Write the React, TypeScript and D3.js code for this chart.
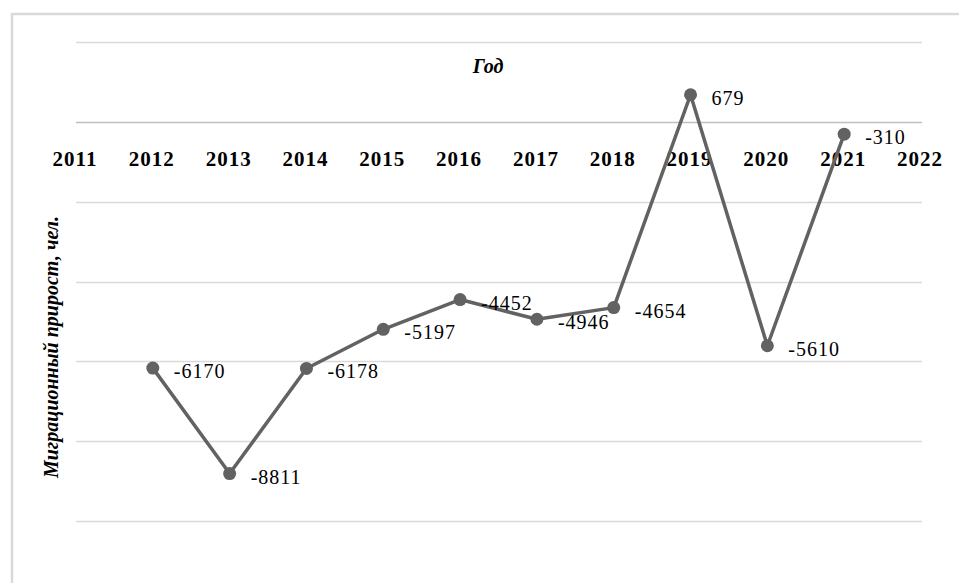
import React, { useEffect, useRef } from 'react';
import * as d3 from 'd3';

const years = [2012, 2013, 2014, 2015, 2016, 2017, 2018, 2019, 2020, 2021];
const migration = [-6170, -8811, -6178, -5197, -4452, -4946, -4654, 679, -5610, -310];
const axisYears = [2011, 2012, 2013, 2014, 2015, 2016, 2017, 2018, 2019, 2020, 2021, 2022];
const gridValues = [-10000, -8000, -6000, -4000, -2000, 0, 2000];

const xTitle = 'Год';
const yTitle = 'Миграционный прирост, чел.';

const App: React.FC = () => {
  const chartRef = useRef<SVGSVGElement | null>(null);

  useEffect(() => {
    if (!chartRef.current) return;
    const width = 959;
    const height = 583;
    const svg = d3.select(chartRef.current);
    svg.selectAll('*').remove();
    svg.attr('width', width).attr('height', height);

    const serif = "'Liberation Serif', 'Times New Roman', serif";

    // outer frame
    svg
      .append('rect')
      .attr('x', 12)
      .attr('y', 14)
      .attr('width', 980)
      .attr('height', 600)
      .attr('fill', '#fff')
      .attr('stroke', '#d9d9d9')
      .attr('stroke-width', 2.5);

    const x = d3.scaleLinear().domain([2011, 2022]).range([76, 921]);
    const y = d3.scaleLinear().domain([-10000, 2000]).range([521, 42]);

    svg
      .append('g')
      .selectAll('line')
      .data(gridValues)
      .join('line')
      .attr('x1', 76)
      .attr('x2', 922)
      .attr('y1', (d) => Math.round(y(d)) + 0.5)
      .attr('y2', (d) => Math.round(y(d)) + 0.5)
      .attr('stroke', (d) => (d === 0 ? '#bfbfbf' : '#d9d9d9'))
      .attr('stroke-width', 1.3);

    // x axis labels under the zero line
    svg
      .append('g')
      .selectAll('text')
      .data(axisYears)
      .join('text')
      .attr('x', (d) => x(d) - 1)
      .attr('y', y(0) + 44)
      .attr('text-anchor', 'middle')
      .style('font-family', serif)
      .style('font-weight', 'bold')
      .style('font-size', '21px')
      .style('letter-spacing', '1px')
      .style('fill', '#000')
      .text((d) => String(d));

    svg
      .append('text')
      .attr('x', 488)
      .attr('y', 73)
      .attr('text-anchor', 'middle')
      .style('font-family', serif)
      .style('font-weight', 'bold')
      .style('font-style', 'italic')
      .style('font-size', '20px')
      .text(xTitle);

    svg
      .append('text')
      .attr('transform', 'translate(58,347) rotate(-90)')
      .attr('text-anchor', 'middle')
      .style('font-family', serif)
      .style('font-weight', 'bold')
      .style('font-style', 'italic')
      .style('font-size', '20px')
      .text(yTitle);

    const pts = years.map((yr, i) => ({ year: yr, value: migration[i] }));

    const line = d3
      .line<{ year: number; value: number }>()
      .x((d) => x(d.year))
      .y((d) => y(d.value));

    svg
      .append('path')
      .datum(pts)
      .attr('d', line as any)
      .attr('fill', 'none')
      .attr('stroke', '#626262')
      .attr('stroke-width', 3.5)
      .attr('stroke-linejoin', 'round');

    svg
      .append('g')
      .selectAll('circle')
      .data(pts)
      .join('circle')
      .attr('cx', (d) => x(d.year))
      .attr('cy', (d) => y(d.value))
      .attr('r', 6.5)
      .attr('fill', '#626262');

    svg
      .append('g')
      .selectAll('text')
      .data(pts)
      .join('text')
      .attr('x', (d) => x(d.year) + 21)
      .attr('y', (d) => y(d.value) + 10)
      .style('font-family', serif)
      .style('font-size', '20px')
      .style('letter-spacing', '1px')
      .style('fill', '#000')
      .text((d) => String(d.value));
  }, []);

  return (
    <svg
      ref={chartRef}
      style={{ position: 'absolute', left: 0, top: 0, display: 'block', background: '#fff' }}
    ></svg>
  );
};

export default App;
